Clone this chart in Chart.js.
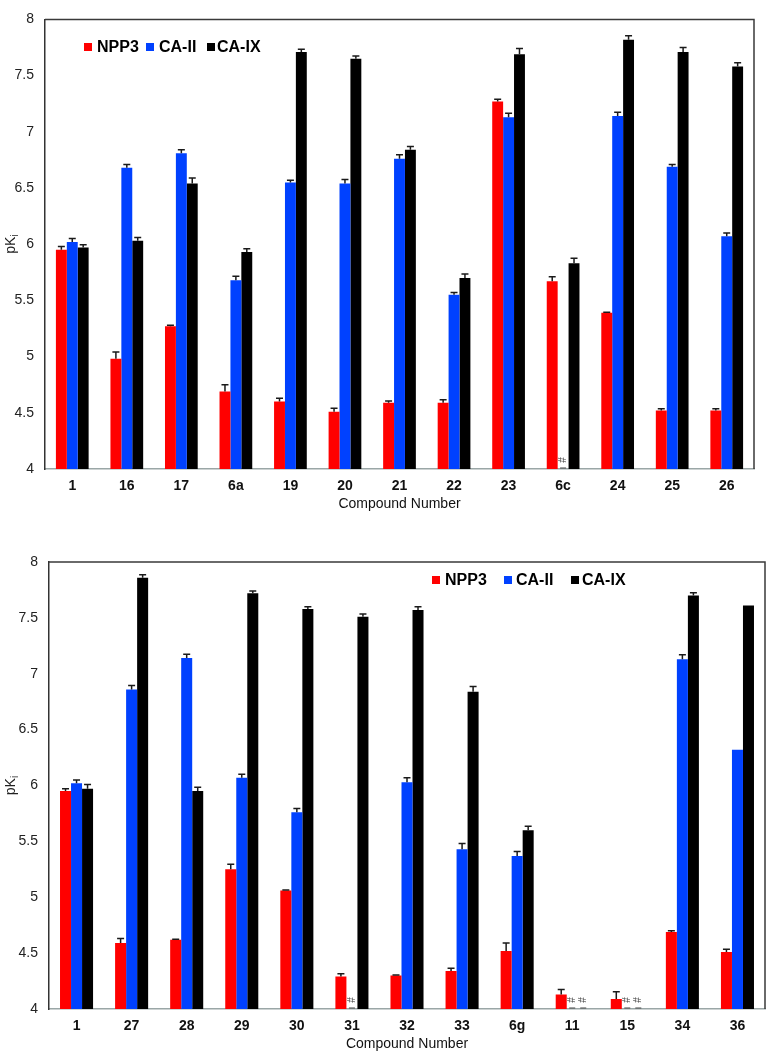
<!DOCTYPE html>
<html>
<head>
<meta charset="utf-8">
<script src="https://cdn.jsdelivr.net/npm/chart.js@4.4.1/dist/chart.umd.min.js"></script>
<style>
  body { margin: 0; background: #fff; }
  #wrap { position: relative; width: 767px; height: 1053px; background: #fff; font-family: "Liberation Sans", Arial, sans-serif; }
  canvas { position: absolute; left: 0; }
  .lg { position: absolute; font: bold 16px "Liberation Sans", Arial, sans-serif; color: #000; line-height: 16px; }
  .sw { position: absolute; width: 8px; height: 8px; }
</style>
</head>
<body>
<div id="wrap">
  <canvas id="topChart" width="767" height="520" style="top:0"></canvas>
  <canvas id="bottomChart" width="767" height="533" style="top:520px"></canvas>

  <!-- legends -->
  <div class="sw" style="left:84px;top:43px;background:#ff0000"></div>
  <div class="lg" style="left:97px;top:39px">NPP3</div>
  <div class="sw" style="left:146px;top:43px;background:#0041ff"></div>
  <div class="lg" style="left:159px;top:39px">CA-II</div>
  <div class="sw" style="left:207px;top:43px;background:#000"></div>
  <div class="lg" style="left:217px;top:39px">CA-IX</div>

  <div class="sw" style="left:432px;top:576px;background:#ff0000"></div>
  <div class="lg" style="left:445px;top:572px">NPP3</div>
  <div class="sw" style="left:504px;top:576px;background:#0041ff"></div>
  <div class="lg" style="left:516px;top:572px">CA-II</div>
  <div class="sw" style="left:571px;top:576px;background:#000"></div>
  <div class="lg" style="left:582px;top:572px">CA-IX</div>
</div>
<script>
// --- data: top panel ---
const topCompounds = ['1', '16', '17', '6a', '19', '20', '21', '22', '23', '6c', '24', '25', '26'];
const topNPP3 = [5.95, 4.98, 5.27, 4.69, 4.60, 4.51, 4.59, 4.59, 7.27, 5.67, 5.39, 4.52, 4.52];
const topNPP3Err = [0.03, 0.06, 0.01, 0.06, 0.03, 0.03, 0.015, 0.025, 0.02, 0.04, 0.005, 0.015, 0.015];
const topCAII = [6.02, 6.68, 6.81, 5.68, 6.55, 6.54, 6.76, 5.55, 7.13, null, 7.14, 6.69, 6.07];
const topCAIIErr = [0.03, 0.03, 0.03, 0.035, 0.02, 0.035, 0.035, 0.02, 0.035, null, 0.035, 0.02, 0.03];
const topCAIX = [5.97, 6.03, 6.54, 5.93, 7.71, 7.65, 6.84, 5.70, 7.69, 5.83, 7.82, 7.71, 7.58];
const topCAIXErr = [0.025, 0.03, 0.05, 0.03, 0.025, 0.025, 0.03, 0.035, 0.05, 0.045, 0.035, 0.04, 0.035];

// --- data: bottom panel ---
const botCompounds = ['1', '27', '28', '29', '30', '31', '32', '33', '6g', '11', '15', '34', '36'];
const botNPP3 = [5.95, 4.59, 4.62, 5.25, 5.06, 4.29, 4.30, 4.34, 4.52, 4.13, 4.09, 4.69, 4.51];
const botNPP3Err = [0.02, 0.04, 0.005, 0.045, 0.005, 0.025, 0.005, 0.025, 0.07, 0.045, 0.065, 0.01, 0.025];
const botCAII = [6.02, 6.86, 7.14, 6.07, 5.76, null, 6.03, 5.43, 5.37, null, null, 7.13, 6.32];
const botCAIIErr = [0.03, 0.035, 0.035, 0.03, 0.035, null, 0.04, 0.05, 0.04, null, null, 0.04, 0];
const botCAIX = [5.97, 7.86, 5.95, 7.72, 7.58, 7.51, 7.57, 6.84, 5.60, null, null, 7.70, 7.61];
const botCAIXErr = [0.04, 0.025, 0.035, 0.02, 0.02, 0.025, 0.03, 0.045, 0.035, null, null, 0.025, 0];

const seriesNames = ['NPP3', 'CA-II', 'CA-IX'];
const seriesColors = ['#ff0000', '#0041ff', '#000000'];
const FONT = '"Liberation Sans", Arial, sans-serif';

// error bars (upper half only) + "#" for compounds without a value + plot frame + pKi title
const extrasPlugin = {
    id: 'extras',
    afterDatasetsDraw(chart) {
        const ctx = chart.ctx;
        const y = chart.scales.y;
        const x = chart.scales.x;
        const area = chart.chartArea;
        ctx.save();
        chart.data.datasets.forEach((ds, i) => {
            const meta = chart.getDatasetMeta(i);
            meta.data.forEach((bar, j) => {
                const v = ds.data[j];
                if (v === null) {
                    // no value: small rotated "#" sitting on the axis
                    const w = x.getPixelForValue(1) - x.getPixelForValue(0);
                    const cx = isNaN(bar.x) ? x.getPixelForValue(j) + (i - 1) * w * 0.2 : bar.x;
                    ctx.strokeStyle = '#444';
                    ctx.lineWidth = 1;
                    ctx.beginPath();
                    ctx.moveTo(cx - 3, area.bottom - 1);
                    ctx.lineTo(cx + 3, area.bottom - 1);
                    ctx.stroke();
                    ctx.translate(cx, area.bottom - 9);
                    ctx.rotate(-Math.PI / 2);
                    ctx.fillStyle = '#444';
                    ctx.font = '10px ' + FONT;
                    ctx.textAlign = 'center';
                    ctx.textBaseline = 'middle';
                    ctx.fillText('#', 0, 0);
                    ctx.setTransform(1, 0, 0, 1, 0, 0);
                    return;
                }
                const err = ds.errors[j];
                if (!err) return;
                const top = y.getPixelForValue(v + err);
                ctx.strokeStyle = '#1a1a1a';
                ctx.lineWidth = 1.5;
                ctx.beginPath();
                ctx.moveTo(bar.x, bar.y);
                ctx.lineTo(bar.x, top);
                ctx.moveTo(bar.x - 3.5, top);
                ctx.lineTo(bar.x + 3.5, top);
                ctx.stroke();
            });
        });
        // top and right edges of the frame
        ctx.strokeStyle = '#3a3a3a';
        ctx.lineWidth = 1.5;
        ctx.beginPath();
        ctx.moveTo(area.left, area.top);
        ctx.lineTo(area.right, area.top);
        ctx.lineTo(area.right, area.bottom);
        ctx.stroke();

        // y-axis title "pK" with subscript "i"
        const cy = (area.top + area.bottom) / 2;
        ctx.translate(15, cy);
        ctx.rotate(-Math.PI / 2);
        ctx.fillStyle = '#222';
        ctx.textBaseline = 'alphabetic';
        ctx.textAlign = 'left';
        ctx.font = '14px ' + FONT;
        const wMain = ctx.measureText('pK').width;
        ctx.font = '10px ' + FONT;
        const wSub = ctx.measureText('i').width;
        const x0 = -(wMain + wSub) / 2;
        ctx.font = '14px ' + FONT;
        ctx.fillText('pK', x0, 0);
        ctx.font = '10px ' + FONT;
        ctx.fillText('i', x0 + wMain, 3);
        ctx.setTransform(1, 0, 0, 1, 0, 0);
        ctx.restore();
    }
};

function makeChart(id, labels, values, errors, geo) {
    const datasets = values.map((vals, i) => ({
        label: seriesNames[i],
        data: vals,
        errors: errors[i],
        backgroundColor: seriesColors[i],
        borderWidth: 0,
        categoryPercentage: 0.6,
        barPercentage: 1.0
    }));
    return new Chart(document.getElementById(id), {
        type: 'bar',
        data: { labels: labels, datasets: datasets },
        options: {
            responsive: false,
            animation: false,
            devicePixelRatio: 1,
            layout: { padding: { top: geo.top, right: geo.right, left: 0, bottom: 0 } },
            plugins: {
                legend: { display: false },
                tooltip: { enabled: false }
            },
            scales: {
                x: {
                    grid: { display: false, drawTicks: false },
                    border: { display: true, color: '#9aa6a6', width: 1.5 },
                    ticks: { color: '#111', padding: 9, font: { family: FONT, size: 14, weight: 'bold' } },
                    title: {
                        display: true, text: 'Compound Number', color: '#111',
                        font: { family: FONT, size: 14 }, padding: { top: 0, bottom: geo.titlePad }
                    },
                    afterFit(scale) { scale.height = geo.xHeight; }
                },
                y: {
                    min: 4, max: 8,
                    grid: { display: false, drawTicks: false },
                    border: { display: true, color: '#333', width: 1.5 },
                    ticks: {
                        stepSize: 0.5, color: '#222', padding: 11,
                        font: { family: FONT, size: 14 },
                        callback: (v) => String(Math.round(v * 10) / 10)
                    },
                    afterFit(scale) { scale.width = geo.yWidth; }
                }
            }
        },
        plugins: [extrasPlugin]
    });
}

makeChart('topChart', topCompounds,
    [topNPP3, topCAII, topCAIX], [topNPP3Err, topCAIIErr, topCAIXErr],
    { top: 5, right: 13, yWidth: 45, xHeight: 51, titlePad: 7 });

makeChart('bottomChart', botCompounds,
    [botNPP3, botCAII, botCAIX], [botNPP3Err, botCAIIErr, botCAIXErr],
    { top: 42, right: 2, yWidth: 49, xHeight: 44, titlePad: 0 });
</script>
</body>
</html>
